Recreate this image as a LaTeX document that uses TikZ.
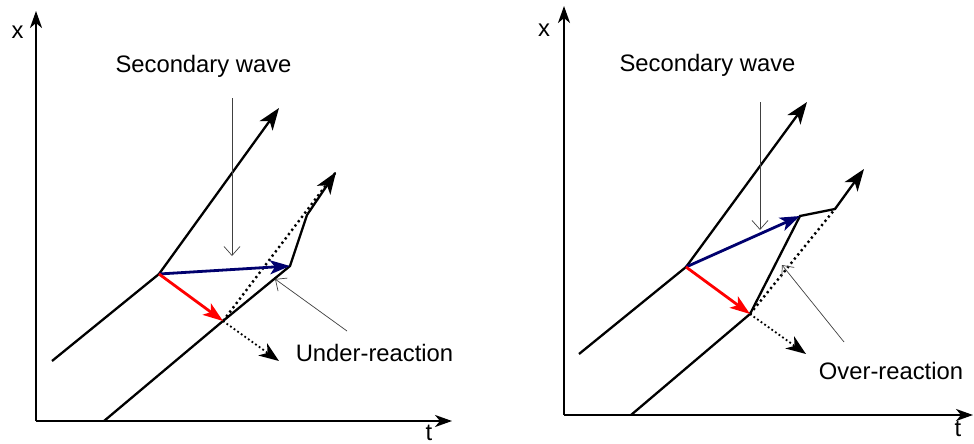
\documentclass[tikz,border=0pt]{standalone}
\usepackage{fontspec}
\setmainfont{Liberation Sans}
\usetikzlibrary{arrows.meta}
\definecolor{wavenavy}{RGB}{0,0,110}
\definecolor{wavered}{RGB}{255,0,0}
\tikzset{
  axis/.style={line width=2.3pt,-{Stealth[length=17pt,width=12pt,inset=5pt]}},
  wave/.style={line width=2.3pt,line join=miter},
  wavetip/.style={-{Stealth[length=22pt,width=16pt,inset=6pt]}},
  dotline/.style={line width=2.4pt,dash pattern=on 2.2pt off 3.2pt},
  pointer/.style={line width=0.7pt,draw=black!75,-{Straight Barb[length=9pt,width=16pt,line width=0.7pt]}},
  bluearrow/.style={draw=wavenavy,line width=2.8pt,-{Stealth[length=20pt,width=14pt,inset=5pt]}},
  redarrow/.style={draw=wavered,line width=2.8pt,-{Stealth[length=20pt,width=14pt,inset=5pt]}},
  lbl/.style={font=\fontsize{23.8}{28}\selectfont,inner sep=0pt,anchor=base}
}
\begin{document}
\begin{tikzpicture}[x=1pt,y=-1pt]
\useasboundingbox (0,0) rectangle (974,444);
% ---------- left panel ----------
\coordinate (O1) at (36,421);
\coordinate (Y1) at (36,11);
\coordinate (X1) at (452,421);
\coordinate (A1) at (52,361);
\coordinate (P1) at (159,274);
\coordinate (T1) at (279,108);
\coordinate (B1) at (104,421);
\coordinate (Q1) at (223,321);
\coordinate (R1) at (290,266);
\coordinate (S1) at (307,215);
\coordinate (U1) at (336,172);
\coordinate (D1) at (279,361);
\coordinate (SW1s) at (232,98);
\coordinate (SW1e) at (232,256);
\coordinate (UR1s) at (347,331);
\coordinate (UR1e) at (275,279);
\draw[axis] (O1) -- (Y1);
\draw[axis] (O1) -- (X1);
\node[lbl] (xl1) at (17.5,39) {x};
\node[lbl] (tl1) at (429,440) {t};
\node[lbl] (sw1) at (203.5,72.5) {Secondary wave};
\node[lbl] (ur1) at (374.5,361) {Under-reaction};
\draw[wave,wavetip] (A1) -- (P1) -- (T1);
\draw[dotline] (Q1) -- (U1);
\draw[wave,wavetip] (B1) -- (Q1) -- (R1) -- (S1) -- (U1);
\draw[dotline,line width=1.8pt,dash pattern=on 1.8pt off 2.6pt,-{Stealth[length=20pt,width=15pt,inset=6pt]}] (Q1) -- (D1);
\draw[bluearrow] (P1) -- (R1);
\draw[redarrow] (P1) -- (Q1);
\draw[pointer] (SW1s) -- (SW1e);
\draw[pointer] (UR1s) -- (UR1e);
% ---------- right panel ----------
\coordinate (O2) at (564,415);
\coordinate (Y2) at (564,6);
\coordinate (X2) at (973,415);
\coordinate (A2) at (579,354);
\coordinate (P2) at (686,267);
\coordinate (T2) at (807,102);
\coordinate (B2) at (631,415);
\coordinate (Q2) at (750,314);
\coordinate (R2) at (800,216);
\coordinate (S2) at (835,209);
\coordinate (U2) at (864,169);
\coordinate (D2) at (806,354);
\coordinate (SW2s) at (760,102);
\coordinate (SW2e) at (760,230);
\coordinate (OR2s) at (844,342);
\coordinate (OR2e) at (782,265);
\draw[axis] (O2) -- (Y2);
\draw[axis] (O2) -- (X2);
\node[lbl] (xl2) at (544,37) {x};
\node[lbl] (tl2) at (958,436) {t};
\node[lbl] (sw2) at (707.5,71) {Secondary wave};
\node[lbl] (or2) at (891,379) {Over-reaction};
\draw[wave,wavetip] (A2) -- (P2) -- (T2);
\draw[dotline] (Q2) -- (S2);
\draw[wave,wavetip] (B2) -- (Q2) -- (R2) -- (S2) -- (U2);
\draw[dotline,line width=1.8pt,dash pattern=on 1.8pt off 2.6pt,-{Stealth[length=20pt,width=15pt,inset=6pt]}] (Q2) -- (D2);
\draw[bluearrow] (P2) -- (R2);
\draw[redarrow] (P2) -- (Q2);
\draw[pointer] (SW2s) -- (SW2e);
\draw[pointer] (OR2s) -- (OR2e);
\end{tikzpicture}
\end{document}
